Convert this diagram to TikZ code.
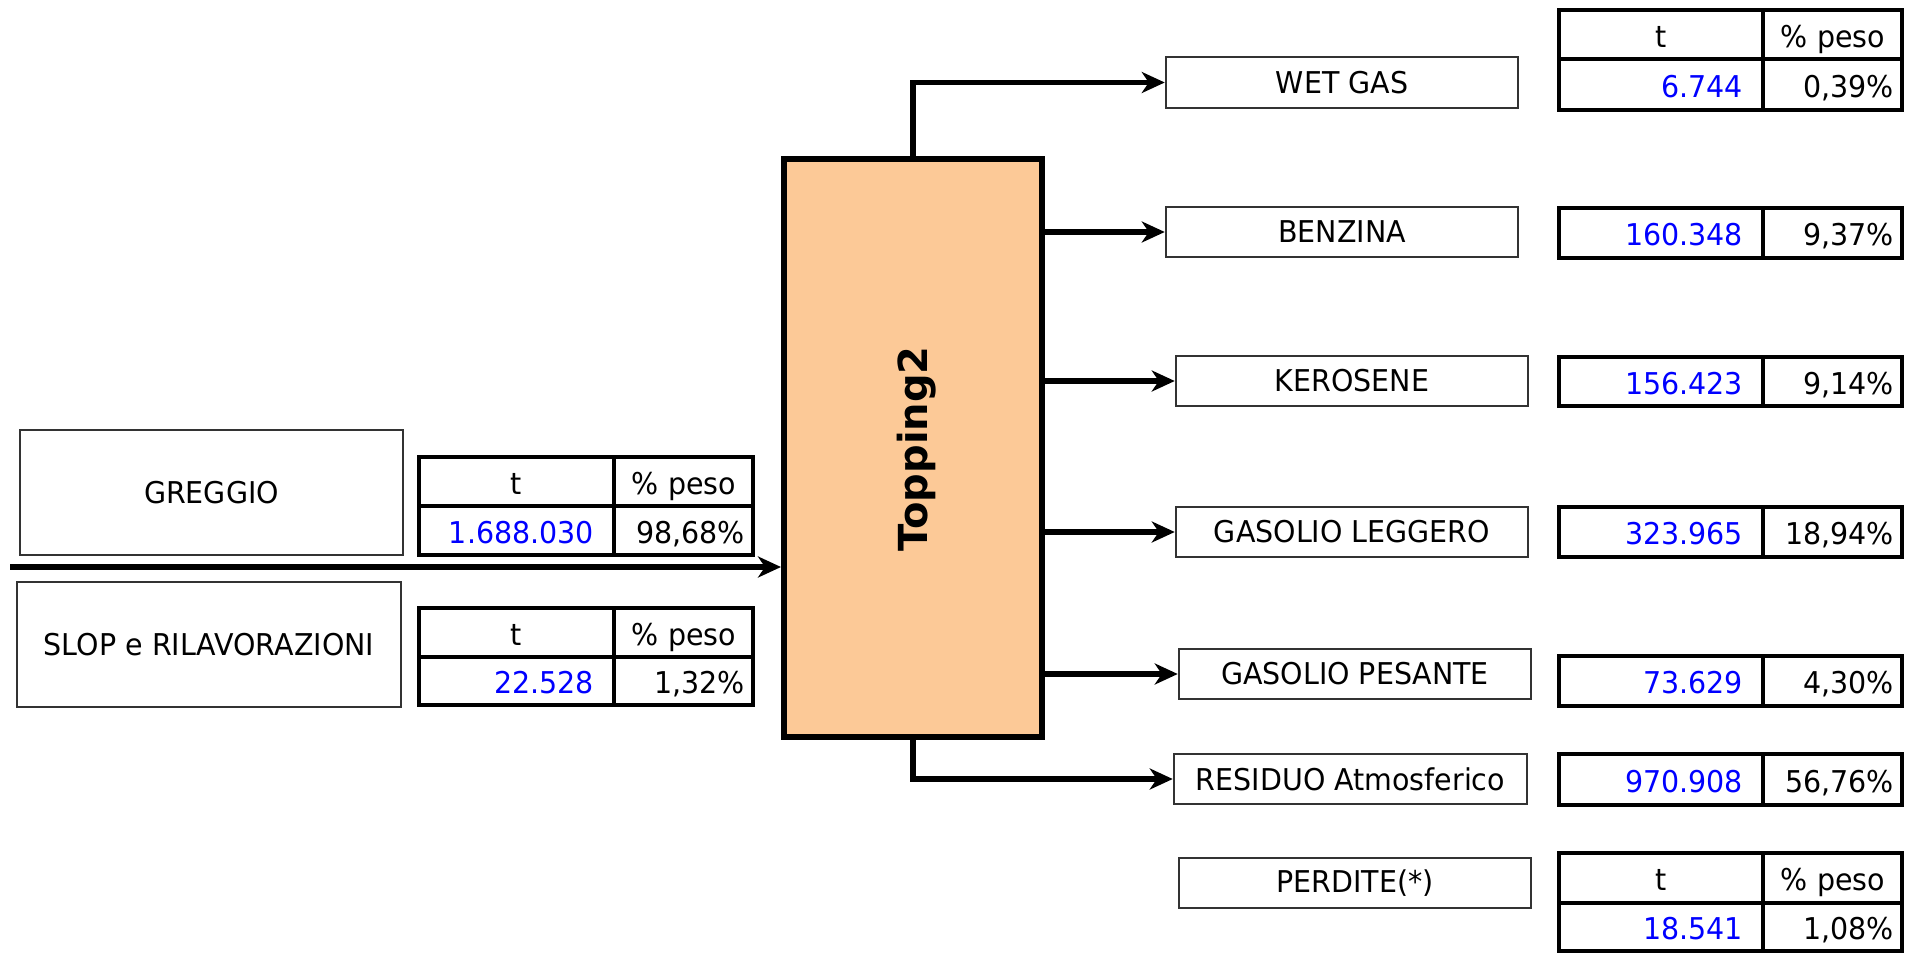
\documentclass[tikz,border=0pt]{standalone}
\usepackage{fontspec}
\setmainfont{DejaVu Sans}[FakeStretch=0.95]
\newfontfamily\tpfont{DejaVu Sans}
\usetikzlibrary{arrows.meta}
\definecolor{peach}{RGB}{252,201,151}
\newcommand{\tabfont}{\fontsize{30}{35}\selectfont}
\begin{document}
\begin{tikzpicture}[x=1pt,y=-1pt,
  txtbox/.style={draw=black!80, line width=2.5pt, inner sep=0pt, font=\tabfont, minimum width=352pt, minimum height=50pt},
  mainbox/.style={draw=black, line width=6pt, fill=peach, minimum width=258pt, minimum height=578pt, inner sep=0pt},
  cell/.style={draw=black, line width=4.5pt, inner sep=0pt, outer sep=0pt, font=\tabfont, anchor=north west, text height=25pt, text depth=0pt},
  rL/.style={cell, minimum width=204pt, text width=164pt},
  iL/.style={cell, minimum width=195pt, text width=155pt},
  cR/.style={cell, minimum width=139pt, text width=123pt},
  hd/.style={align=center},
  vl/.style={align=right},
  num/.style={align=right, text=blue},
  arr/.style={line width=5.5pt, -{Stealth[length=23pt, width=21pt, inset=7pt]}}
]
\useasboundingbox (0,0) rectangle (1917,953);

% main unit
\node[mainbox] (topp) at (913,448) {};
\node[rotate=90, font=\tpfont\bfseries\fontsize{40}{42}\selectfont] (tlabel) at (917,449) {Topping2};

% input boxes
\node[txtbox, minimum width=383pt, minimum height=125pt] (greg) at (211.5,492.5) {GREGGIO};
\node[txtbox, minimum width=384pt, minimum height=125pt] (slop) at (209,644.5) {SLOP e RILAVORAZIONI};

% input tables
\node[iL, hd, minimum height=49pt] (g1l) at (419,457) {t};
\node[cR, hd, minimum height=49pt] (g1r) at (g1l.north east) {\% peso};
\node[iL, num, minimum height=49pt] (g2l) at (g1l.south west) {1.688.030};
\node[cR, vl, minimum height=49pt] (g2r) at (g2l.north east) {98,68\%};

\node[iL, hd, minimum height=49pt] (s1l) at (419,608) {t};
\node[cR, hd, minimum height=49pt] (s1r) at (s1l.north east) {\% peso};
\node[iL, num, minimum height=48pt] (s2l) at (s1l.south west) {22.528};
\node[cR, vl, minimum height=48pt] (s2r) at (s2l.north east) {1,32\%};

% output boxes
\node[txtbox, minimum height=51pt] (wet) at (1342,82.5) {WET GAS};
\node[txtbox] (ben) at (1342,232) {BENZINA};
\node[txtbox] (ker) at (1352,381) {KEROSENE};
\node[txtbox] (gl) at (1352,532) {GASOLIO LEGGERO};
\node[txtbox] (gp) at (1355,674) {GASOLIO PESANTE};
\node[txtbox, minimum width=353pt] (res) at (1350.5,779) {RESIDUO Atmosferico};
\node[txtbox] (per) at (1355,883) {PERDITE(*)};

% output tables
\node[rL, hd, minimum height=49pt] (w1l) at (1559,10) {t};
\node[cR, hd, minimum height=49pt] (w1r) at (w1l.north east) {\% peso};
\node[rL, num, minimum height=51pt] (w2l) at (w1l.south west) {6.744};
\node[cR, vl, minimum height=51pt] (w2r) at (w2l.north east) {0,39\%};

\node[rL, num, minimum height=50pt] (bl) at (1559,208) {160.348};
\node[cR, vl, minimum height=50pt] (br) at (bl.north east) {9,37\%};

\node[rL, num, minimum height=49pt] (kl) at (1559,357) {156.423};
\node[cR, vl, minimum height=49pt] (kr) at (kl.north east) {9,14\%};

\node[rL, num, minimum height=50pt] (gll) at (1559,507) {323.965};
\node[cR, vl, minimum height=50pt] (glr) at (gll.north east) {18,94\%};

\node[rL, num, minimum height=50pt] (gpl) at (1559,656) {73.629};
\node[cR, vl, minimum height=50pt] (gpr) at (gpl.north east) {4,30\%};

\node[rL, num, minimum height=51pt] (rl) at (1559,754) {970.908};
\node[cR, vl, minimum height=51pt] (rr) at (rl.north east) {56,76\%};

\node[rL, hd, minimum height=50pt] (p1l) at (1559,853) {t};
\node[cR, hd, minimum height=50pt] (p1r) at (p1l.north east) {\% peso};
\node[rL, num, minimum height=48pt] (p2l) at (p1l.south west) {18.541};
\node[cR, vl, minimum height=48pt] (p2r) at (p2l.north east) {1,08\%};

% connectors
\coordinate (feed) at (10,567);
\draw[arr] (feed) -- (feed -| topp.west);
\draw[arr] (topp.north) |- (wet.west);
\draw[arr] (topp.east |- ben.west) -- (ben.west);
\draw[arr] (topp.east |- ker.west) -- (ker.west);
\draw[arr] (topp.east |- gl.west) -- (gl.west);
\draw[arr] (topp.east |- gp.west) -- (gp.west);
\draw[arr] (topp.south) |- (res.west);
\end{tikzpicture}
\end{document}
